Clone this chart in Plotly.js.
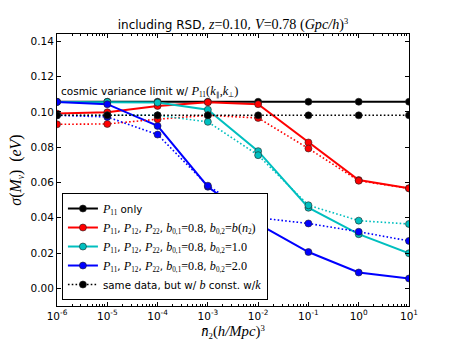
<!DOCTYPE html>
<html>
<head>
<meta charset="utf-8">
<script src="https://cdn.plot.ly/plotly-3.0.1.min.js"></script>
<style>
  html, body { margin: 0; padding: 0; background: #fff; }
  #chart { width: 455px; height: 341px; }
</style>
</head>
<body>
<div id="chart"></div>
<script>
var nBar2 = [1e-6, 1e-5, 1e-4, 1e-3, 1e-2, 1e-1, 1, 10];

var p11Only      = [0.1058, 0.1058, 0.1058, 0.1058, 0.1058, 0.1058, 0.1058, 0.1058];
var p11OnlyConst = [0.0981, 0.0981, 0.0981, 0.0981, 0.0981, 0.0981, 0.0981, 0.0981];
var redSolid     = [0.0991, 0.0998, 0.1034, 0.1055, 0.1044, 0.0827, 0.0614, 0.0567];
var redConst     = [0.0930, 0.0932, 0.0959, 0.0981, 0.0966, 0.0793, 0.0610, 0.0567];
var cyanSolid    = [0.1057, 0.1057, 0.1053, 0.1013, 0.0778, 0.0457, 0.0307, 0.0199];
var cyanConst    = [0.0981, 0.0981, 0.0981, 0.0944, 0.0755, 0.0471, 0.0384, 0.0365];
var blueSolid    = [0.1057, 0.1044, 0.0921, 0.0576, 0.0365, 0.0206, 0.0090, 0.0056];
var blueConst    = [0.0981, 0.0972, 0.0872, 0.0582, 0.0400, 0.0368, 0.0321, 0.0269];

var xTickVals = [1e-6, 1e-5, 1e-4, 1e-3, 1e-2, 1e-1, 1, 10];
var xTickText = ['10<sup>-6</sup>', '10<sup>-5</sup>', '10<sup>-4</sup>', '10<sup>-3</sup>',
                 '10<sup>-2</sup>', '10<sup>-1</sup>', '10<sup>0</sup>', '10<sup>1</sup>'];
var yTickVals = [0, 0.02, 0.04, 0.06, 0.08, 0.10, 0.12, 0.14];
var yTickText = ['0.00', '0.02', '0.04', '0.06', '0.08', '0.10', '0.12', '0.14'];

// math-style text: serif italic, a bit larger than the sans text
function m(s) {
    return '<span style="font-family:Liberation Serif;font-style:italic;font-size:118%">' + s + '</span>';
}
function mu(s) {
    return '<span style="font-family:Liberation Serif;font-size:118%">' + s + '</span>';
}
// inside sub/sup: no extra scaling
function ms(s) {
    return '<span style="font-family:Liberation Serif;font-style:italic">' + s + '</span>';
}
function mus(s) {
    return '<span style="font-family:Liberation Serif">' + s + '</span>';
}

var pList = m('P') + '<sub>' + mus('11') + '</sub>, ' + m('P') + '<sub>' + mus('12') + '</sub>, ' +
            m('P') + '<sub>' + mus('22') + '</sub>, ' + m('b') + '<sub>' + mus('0,1') + '</sub>' + mu('=0.8') + ', ' +
            m('b') + '<sub>' + mus('0,2') + '</sub>' + mu('=');

function series(y, color, dotted, name, show) {
    return {
        x: nBar2,
        y: y,
        mode: 'lines+markers',
        name: name,
        showlegend: show,
        line: { color: color, width: dotted ? 1.6 : 2, dash: dotted ? '1.6px,2.2px' : 'solid' },
        marker: { color: color, size: 7, symbol: 'circle', line: { color: '#222', width: 0.6 } }
    };
}

var traces = [
    series(p11Only, '#000000', false, m('P') + '<sub>' + mus('11') + '</sub> only', true),
    series(redSolid, '#ff0000', false, pList + m('b') + mu('(') + m('n') + '<sub>' + mus('2') + '</sub>' + mu(')'), true),
    series(cyanSolid, '#00bfbf', false, pList + mu('1.0'), true),
    series(blueSolid, '#0000ff', false, pList + mu('2.0'), true),
    series(redConst, '#ff0000', true, '', false),
    series(cyanConst, '#00bfbf', true, '', false),
    series(blueConst, '#0000ff', true, '', false),
    series(p11OnlyConst, '#000000', true, 'same data, but w/ ' + m('b') + ' const. w/' + m('k'), true)
];

var layout = {
    width: 455,
    height: 341,
    font: { family: 'DejaVu Sans', size: 10, color: '#000' },
    paper_bgcolor: '#fff',
    plot_bgcolor: '#fff',
    margin: { l: 57, r: 46, t: 34, b: 35, pad: 0 },
    title: {
        text: 'including RSD, ' + m('z') + mu('=0.10') + ', ' + m('V') + mu('=0.78 (') + m('Gpc/h') + mu(')') + '<sup>' + mus('3') + '</sup>',
        x: 0.512, xanchor: 'center',
        y: 0.928, yanchor: 'middle',
        font: { size: 12 }
    },
    xaxis: {
        type: 'log',
        range: [-6, 1],
        tickvals: xTickVals,
        ticktext: xTickText,
        ticks: 'inside',
        ticklen: 4,
        tickcolor: '#000',
        showline: true,
        linecolor: '#000',
        linewidth: 1,
        mirror: 'allticks',
        showgrid: false,
        zeroline: false,
        tickfont: { size: 10.5 },
        minor: { ticks: 'inside', ticklen: 2, tickcolor: '#000', dtick: 'D1', showgrid: false },
        title: { text: m('n̄') + '<sub>' + mus('2') + '</sub>' + mu('(') + m('h/Mpc') + mu(')') + '<sup>' + mus('3') + '</sup>', font: { size: 12.5 }, standoff: 7 }
    },
    yaxis: {
        range: [-0.0100, 0.1442],
        tickvals: yTickVals,
        ticktext: yTickText,
        ticks: 'inside',
        ticklen: 4,
        tickcolor: '#000',
        showline: true,
        linecolor: '#000',
        linewidth: 1,
        mirror: 'allticks',
        showgrid: false,
        zeroline: false,
        tickfont: { size: 10.5 },
        title: { text: m('σ') + mu('(') + m('M') + '<sub>' + ms('ν') + '</sub>' + mu(')  (') + m('eV') + mu(')'), font: { size: 13.5 }, standoff: 5 }
    },
    legend: {
        x: 0.014, xanchor: 'left',
        y: 0.022, yanchor: 'bottom',
        bgcolor: '#fff',
        bordercolor: '#000',
        borderwidth: 1,
        font: { size: 10.3 },
        tracegroupgap: 0,
        itemwidth: 30
    },
    annotations: [{
        xref: 'paper', yref: 'y',
        x: 0.006, y: 0.1115,
        xanchor: 'left', yanchor: 'middle',
        showarrow: false,
        font: { size: 10.5 },
        text: 'cosmic variance limit w/ ' + m('P') + '<sub>' + mus('11') + '</sub>' + mu('(') + m('k') + '<sub>' + mus('∥') + '</sub>' + mu(',') + m('k') + '<sub>' + mus('⊥') + '</sub>' + mu(')')
    }]
};

Plotly.newPlot('chart', traces, layout, { displayModeBar: false, staticPlot: true });
</script>
</body>
</html>
